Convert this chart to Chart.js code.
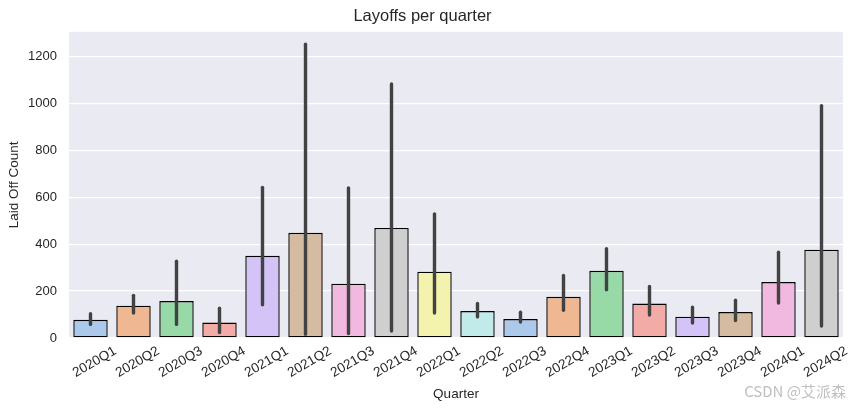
<!DOCTYPE html>
<html>
<head>
<meta charset="utf-8">
<script src="https://cdn.jsdelivr.net/npm/chart.js@4.4.1/dist/chart.umd.min.js"></script>
<style>
  html, body { margin: 0; padding: 0; background: #fff; }
</style>
</head>
<body>
<canvas id="layoffChart" width="856" height="410"></canvas>
<script>
const quarters = ['2020Q1', '2020Q2', '2020Q3', '2020Q4', '2021Q1', '2021Q2', '2021Q3', '2021Q4',
  '2022Q1', '2022Q2', '2022Q3', '2022Q4', '2023Q1', '2023Q2', '2023Q3', '2023Q4', '2024Q1', '2024Q2'];
const meanLaidOff = [78, 138, 158, 66, 351, 449, 232, 470, 283, 115, 81, 176, 287, 147, 91, 111, 239, 377];
const ciLow = [58, 107, 58, 23, 142, 16, 19, 30, 107, 90, 68, 118, 206, 98, 64, 75, 149, 51];
const ciHigh = [104, 182, 328, 127, 643, 1254, 641, 1084, 530, 147, 110, 267, 381, 220, 132, 161, 366, 992];
const yTicks = [0, 200, 400, 600, 800, 1000, 1200];

// seaborn pastel, desaturated like barplot does
const pastel = ['#abc9ea', '#efb792', '#98daa7', '#f3aba8', '#d3c3f7', '#d6bba3', '#f1b9e0', '#cfcfcf', '#f4f3ae', '#c0ebe9'];
const barColors = quarters.map((q, i) => pastel[i % pastel.length]);

const FONT = '"Liberation Sans", Arial, sans-serif';
const TEXT = '#262626';

const plotBg = {
  id: 'plotBg',
  beforeDraw(chart) {
    const { ctx, chartArea: a } = chart;
    ctx.save();
    ctx.fillStyle = '#eaeaf2';
    ctx.fillRect(a.left, a.top, a.width, a.height);
    ctx.restore();
  }
};

const errorBars = {
  id: 'errorBars',
  afterDatasetsDraw(chart) {
    const ctx = chart.ctx;
    const y = chart.scales.y;
    const meta = chart.getDatasetMeta(0);
    ctx.save();
    ctx.strokeStyle = '#424242';
    ctx.lineWidth = 3.4;
    ctx.lineCap = 'round';
    meta.data.forEach((bar, i) => {
      ctx.beginPath();
      ctx.moveTo(bar.x, y.getPixelForValue(ciLow[i]));
      ctx.lineTo(bar.x, y.getPixelForValue(ciHigh[i]));
      ctx.stroke();
    });
    ctx.restore();
  }
};

const watermark = {
  id: 'watermark',
  afterDraw(chart) {
    const ctx = chart.ctx;
    ctx.save();
    ctx.font = '15px "Noto Sans CJK SC", sans-serif';
    ctx.fillStyle = 'rgba(170,170,170,0.75)';
    ctx.textAlign = 'right';
    ctx.textBaseline = 'middle';
    ctx.fillText('CSDN @艾派森', 846, 391);
    ctx.restore();
  }
};

new Chart(document.getElementById('layoffChart'), {
  type: 'bar',
  data: {
    labels: quarters,
    datasets: [{
      label: 'Laid Off Count',
      data: meanLaidOff,
      backgroundColor: barColors,
      borderColor: '#000000',
      borderWidth: 1.4,
      borderSkipped: false,
      barPercentage: 0.8,
      categoryPercentage: 1.0
    }]
  },
  options: {
    responsive: false,
    animation: false,
    layout: { padding: { left: 2, right: 13, top: 0, bottom: 4 } },
    plugins: {
      legend: { display: false },
      tooltip: { enabled: false },
      title: {
        display: true,
        text: 'Layoffs per quarter',
        color: TEXT,
        font: { family: FONT, size: 16.5, weight: 'normal' },
        padding: { top: 7, bottom: 5 }
      }
    },
    scales: {
      x: {
        grid: { display: false, drawTicks: false },
        border: { display: false },
        ticks: {
          color: TEXT,
          font: { family: FONT, size: 13.5 },
          minRotation: 30,
          maxRotation: 30,
          autoSkip: false,
          labelOffset: 25,
          padding: 5
        },
        title: {
          display: true,
          text: 'Quarter',
          color: TEXT,
          font: { family: FONT, size: 13.5 },
          padding: { top: 4, bottom: 4 }
        },
        afterFit(scale) { scale.height = 68; }
      },
      y: {
        min: 0,
        max: 1307,
        grid: { color: '#ffffff', lineWidth: 1.3, drawTicks: false },
        border: { display: false },
        ticks: {
          color: TEXT,
          font: { family: FONT, size: 13 },
          padding: 12,
          callback: value => String(value)
        },
        afterBuildTicks(scale) { scale.ticks = yTicks.map(v => ({ value: v })); },
        title: {
          display: true,
          text: 'Laid Off Count',
          color: TEXT,
          font: { family: FONT, size: 13.5 },
          padding: { top: 4, bottom: 4 }
        },
        afterFit(scale) { scale.width = 67; }
      }
    }
  },
  plugins: [plotBg, errorBars, watermark]
});
</script>
</body>
</html>
